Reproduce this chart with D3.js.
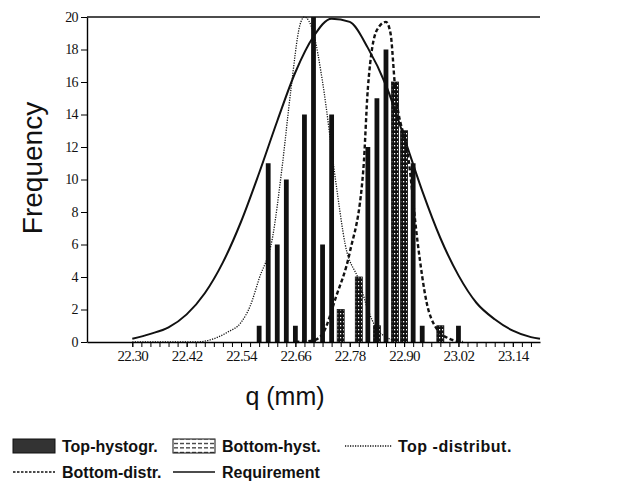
<!DOCTYPE html>
<html>
<head>
<meta charset="utf-8">
<script src="https://cdn.jsdelivr.net/npm/d3@7"></script>
<style>
  body { margin: 0; background: #fff; }
  svg { display: block; }
</style>
</head>
<body>
<div id="chart"></div>
<script>
// histogram bins (q in mm) and counts
const topBins = [22.58, 22.60, 22.62, 22.64, 22.66, 22.68, 22.70, 22.72, 22.74, 22.82, 22.84, 22.86, 22.92, 22.94, 23.02];
const topCounts = [1, 11, 6, 10, 1, 14, 20, 6, 14, 12, 15, 18, 11, 1, 1];
const bottomBins = [22.76, 22.80, 22.84, 22.88, 22.90, 22.98];
const bottomCounts = [2, 4, 1, 16, 13, 1];

// fitted curves, points
const reqQ = [22.30, 22.34, 22.38, 22.42, 22.46, 22.50, 22.54, 22.58, 22.62, 22.66, 22.70, 22.74, 22.78, 22.82, 22.86, 22.90, 22.94, 22.98, 23.02, 23.06, 23.10, 23.14, 23.18, 23.20];
const reqF = [0.2, 0.5, 0.9, 1.7, 3.0, 4.9, 7.4, 10.4, 13.6, 16.6, 18.8, 19.9, 19.7, 18.1, 15.8, 12.6, 9.3, 6.4, 4.1, 2.4, 1.4, 0.7, 0.3, 0.2];

const topDistQ = [22.30, 22.44, 22.48, 22.51, 22.54, 22.56, 22.58, 22.61, 22.63, 22.65, 22.67, 22.68, 22.70, 22.72, 22.75, 22.77, 22.80, 22.82, 22.84, 22.86, 22.88];
const topDistF = [0, 0, 0.2, 0.6, 1.2, 2.2, 3.9, 6.5, 10.6, 15.5, 19.5, 20, 19.0, 16.0, 9.7, 6.0, 3.8, 2.0, 0.8, 0.3, 0.1];

const botDistQ = [22.66, 22.70, 22.72, 22.75, 22.78, 22.81, 22.82, 22.84, 22.86, 22.87, 22.88, 22.91, 22.93, 22.95, 22.97, 23.00, 23.03];
const botDistF = [0, 0.1, 0.5, 2.8, 5.5, 10.6, 15.6, 19.2, 19.7, 19.0, 15.7, 11.2, 6.1, 2.4, 0.9, 0.2, 0];

const xLabelTicks = [22.30, 22.42, 22.54, 22.66, 22.78, 22.90, 23.02, 23.14];
const yTicks = [0, 2, 4, 6, 8, 10, 12, 14, 16, 18, 20];

const W = 624, H = 495;
const mLeft = 87, mRight = 540, mTop = 17, mBottom = 342;

const svg = d3.select("#chart").append("svg")
  .attr("width", W)
  .attr("height", H);

const x = d3.scaleLinear().domain([22.2, 23.2]).range([mLeft, mRight]);
const y = d3.scaleLinear().domain([0, 20]).range([mBottom, mTop]);

// pattern for the bottom histogram (dark with white dots)
const defs = svg.append("defs");
const pat = defs.append("pattern")
  .attr("id", "dots")
  .attr("patternUnits", "userSpaceOnUse")
  .attr("width", 3).attr("height", 4);
pat.append("rect").attr("width", 3).attr("height", 4).attr("fill", "#111");
pat.append("rect").attr("x", 1).attr("y", 1).attr("width", 1.2).attr("height", 1.4).attr("fill", "#fff");

const legPat = defs.append("pattern")
  .attr("id", "dashes")
  .attr("patternUnits", "userSpaceOnUse")
  .attr("width", 6).attr("height", 4.5);
legPat.append("rect").attr("width", 6).attr("height", 4.5).attr("fill", "#fff");
legPat.append("rect").attr("x", 0).attr("y", 1.8).attr("width", 4).attr("height", 1.2).attr("fill", "#222");

// bars
const bottomData = bottomBins.map((q, i) => ({q: q, n: bottomCounts[i]}));
const topData = topBins.map((q, i) => ({q: q, n: topCounts[i]}));

svg.append("g")
  .selectAll("rect")
  .data(bottomData)
  .join("rect")
  .attr("x", d => x(d.q) - 3.5)
  .attr("width", 7)
  .attr("y", d => y(d.n))
  .attr("height", d => y(0) - y(d.n))
  .attr("fill", "url(#dots)")
  .attr("stroke", "#111")
  .attr("stroke-width", 0.8);

svg.append("g")
  .selectAll("rect")
  .data(topData)
  .join("rect")
  .attr("x", d => x(d.q) - 2.4)
  .attr("width", 4.8)
  .attr("y", d => y(d.n))
  .attr("height", d => y(0) - y(d.n))
  .attr("fill", "#111");

// curves
const line = d3.line()
  .x(d => x(d[0]))
  .y(d => y(d[1]))
  .curve(d3.curveMonotoneX);

svg.append("path")
  .datum(topDistQ.map((q, i) => [q, topDistF[i]]))
  .attr("d", line)
  .attr("fill", "none")
  .attr("stroke", "#111")
  .attr("stroke-width", 1.3)
  .attr("stroke-dasharray", "1.2,1.3");

svg.append("path")
  .datum(botDistQ.map((q, i) => [q, botDistF[i]]))
  .attr("d", line)
  .attr("fill", "none")
  .attr("stroke", "#111")
  .attr("stroke-width", 2.4)
  .attr("stroke-dasharray", "4,2.5");

svg.append("path")
  .datum(reqQ.map((q, i) => [q, reqF[i]]))
  .attr("d", line)
  .attr("fill", "none")
  .attr("stroke", "#111")
  .attr("stroke-width", 2);

// axes
const minorTicks = d3.range(0, 45).map(i => 22.30 + i * 0.02);

svg.append("g")
  .attr("transform", `translate(0,${mBottom})`)
  .call(d3.axisBottom(x).tickValues(minorTicks).tickSize(5).tickSizeOuter(0).tickFormat(""))
  .call(g => g.select(".domain").attr("stroke-width", 1.4));

svg.append("g")
  .attr("transform", `translate(0,${mBottom})`)
  .call(d3.axisBottom(x).tickValues(xLabelTicks).tickSize(5).tickSizeOuter(0).tickFormat(d3.format(".2f")))
  .call(g => g.select(".domain").remove())
  .call(g => g.selectAll("text")
    .attr("font-family", "Liberation Serif, Times New Roman, serif")
    .attr("font-size", 15)
    .attr("letter-spacing", "-0.6")
    .attr("fill", "#111"));

svg.append("g")
  .attr("transform", `translate(${mLeft},0)`)
  .call(d3.axisLeft(y).tickValues(yTicks).tickSize(6).tickSizeOuter(0))
  .call(g => g.select(".domain").attr("stroke-width", 1.4))
  .call(g => g.selectAll("text")
    .attr("font-family", "Liberation Serif, Times New Roman, serif")
    .attr("font-size", 14)
    .attr("letter-spacing", "-0.6")
    .attr("fill", "#111"));

// top frame line
svg.append("line")
  .attr("x1", mLeft).attr("x2", mRight)
  .attr("y1", mTop).attr("y2", mTop)
  .attr("stroke", "#111")
  .attr("stroke-width", 1.4);

// axis titles
svg.append("text")
  .attr("transform", `translate(42,168) rotate(-90)`)
  .attr("text-anchor", "middle")
  .attr("font-family", "Liberation Sans, Arial, sans-serif")
  .attr("font-size", 28)
  .attr("fill", "#111")
  .text("Frequency");

svg.append("text")
  .attr("x", 285)
  .attr("y", 405)
  .attr("text-anchor", "middle")
  .attr("font-family", "Liberation Sans, Arial, sans-serif")
  .attr("font-size", 25)
  .attr("fill", "#111")
  .text("q (mm)");

// legend
const legend = svg.append("g")
  .attr("font-family", "Liberation Sans, Arial, sans-serif")
  .attr("font-size", 16)
  .attr("font-weight", "bold")
  .attr("fill", "#111");

legend.append("rect").attr("x", 13).attr("y", 439).attr("width", 42).attr("height", 14)
  .attr("fill", "#333").attr("stroke", "#111");
legend.append("text").attr("x", 62).attr("y", 452).text("Top-hystogr.");

legend.append("rect").attr("x", 173).attr("y", 439).attr("width", 42).attr("height", 14)
  .attr("fill", "url(#dashes)").attr("stroke", "#111");
legend.append("text").attr("x", 222).attr("y", 452).text("Bottom-hyst.");

legend.append("line").attr("x1", 345).attr("x2", 392).attr("y1", 446).attr("y2", 446)
  .attr("stroke", "#111").attr("stroke-width", 1.3).attr("stroke-dasharray", "1.2,1.3");
legend.append("text").attr("x", 398).attr("y", 452).attr("letter-spacing", "0.5").text("Top -distribut.");

legend.append("line").attr("x1", 13).attr("x2", 55).attr("y1", 472).attr("y2", 472)
  .attr("stroke", "#111").attr("stroke-width", 1.3).attr("stroke-dasharray", "2.5,1.5");
legend.append("text").attr("x", 62).attr("y", 478).text("Bottom-distr.");

legend.append("line").attr("x1", 173).attr("x2", 215).attr("y1", 472).attr("y2", 472)
  .attr("stroke", "#111").attr("stroke-width", 1.5);
legend.append("text").attr("x", 222).attr("y", 478).text("Requirement");
</script>
</body>
</html>
